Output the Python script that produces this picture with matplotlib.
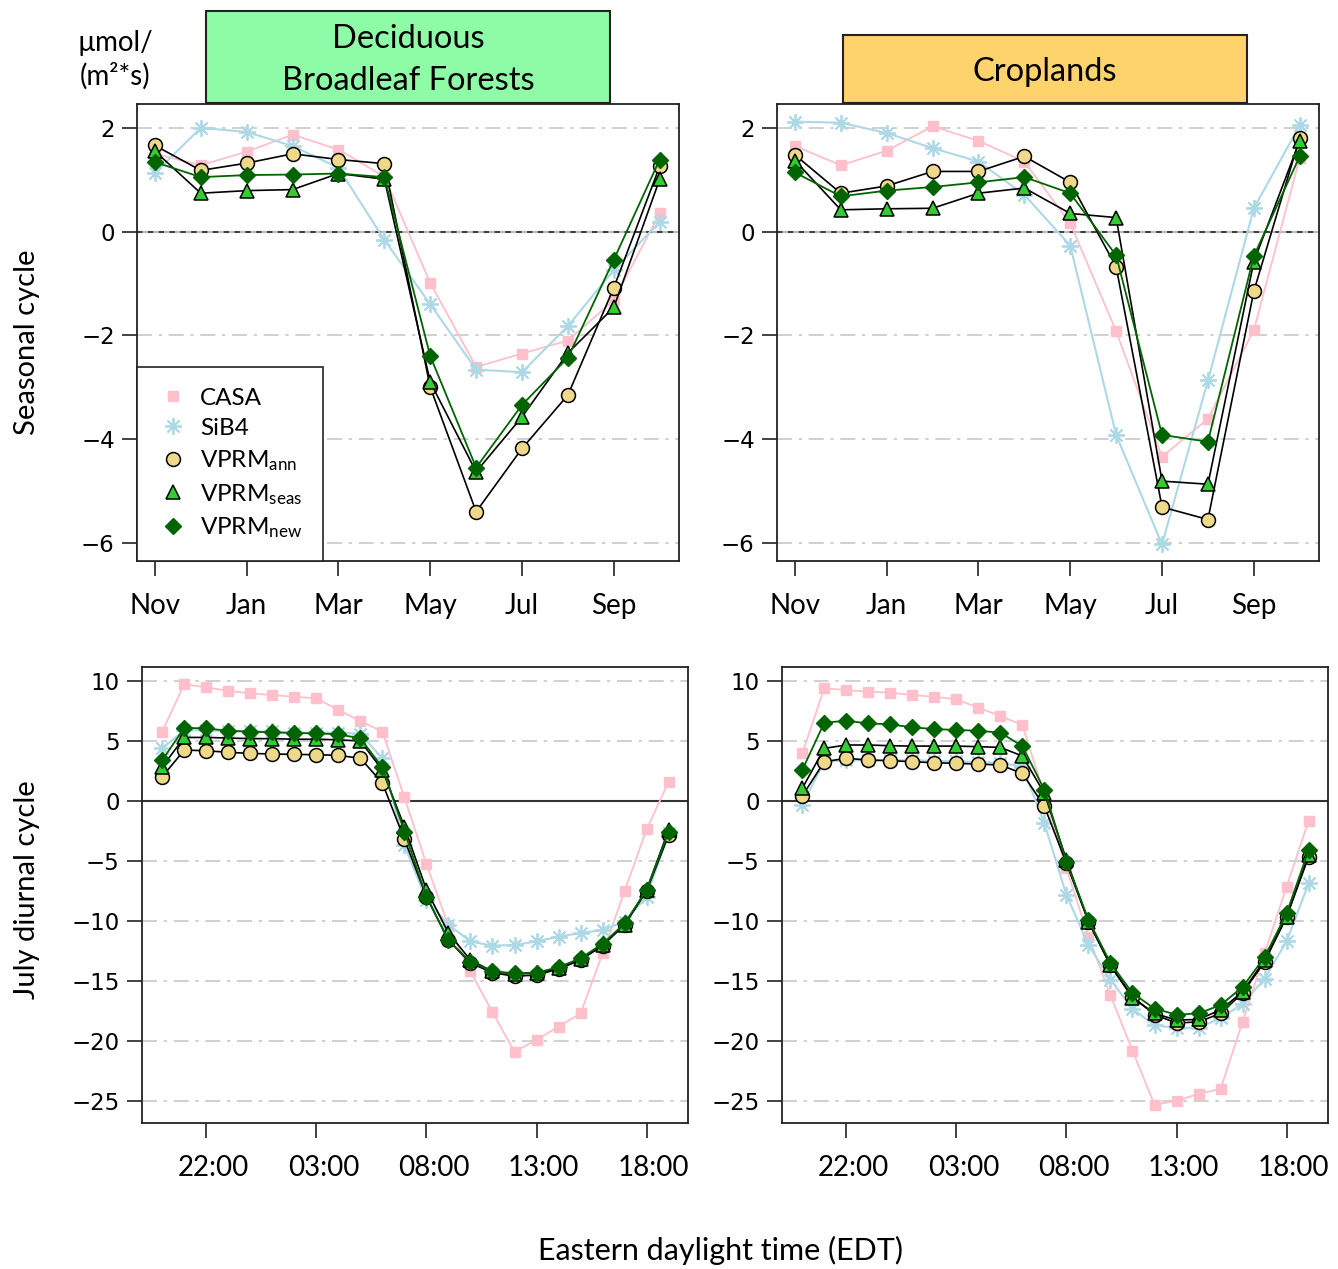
import matplotlib
matplotlib.use('Agg')
import matplotlib.pyplot as plt
from matplotlib.lines import Line2D
from matplotlib.patches import Rectangle
import matplotlib.transforms as mtransforms

plt.rcParams['font.family'] = ['Lato', 'DejaVu Sans']
plt.rcParams['mathtext.fontset'] = 'custom'
plt.rcParams['mathtext.rm'] = 'Lato'
plt.rcParams['mathtext.it'] = 'Lato:italic'
plt.rcParams['axes.unicode_minus'] = True

# ---------------- data ----------------
months = ['Nov', 'Dec', 'Jan', 'Feb', 'Mar', 'Apr', 'May', 'Jun', 'Jul', 'Aug', 'Sep', 'Oct']
month_ticks = ['Nov', 'Jan', 'Mar', 'May', 'Jul', 'Sep']
hours = ['20:00', '21:00', '22:00', '23:00', '00:00', '01:00', '02:00', '03:00',
         '04:00', '05:00', '06:00', '07:00', '08:00', '09:00', '10:00', '11:00',
         '12:00', '13:00', '14:00', '15:00', '16:00', '17:00', '18:00', '19:00']
hour_ticks = ['22:00', '03:00', '08:00', '13:00', '18:00']

series = ['CASA', 'SiB4', 'VPRM_ann', 'VPRM_seas', 'VPRM_new']
legend_labels = ['CASA', 'SiB4', r'VPRM$_{\mathrm{ann}}$', r'VPRM$_{\mathrm{seas}}$', r'VPRM$_{\mathrm{new}}$']

# Deciduous Broadleaf Forests - seasonal cycle
dbf_seas_casa = [1.50, 1.28, 1.54, 1.87, 1.58, 1.06, -0.99, -2.61, -2.35, -2.10, -1.32, 0.35]
dbf_seas_sib4 = [1.13, 2.00, 1.92, 1.65, 1.23, -0.16, -1.40, -2.66, -2.71, -1.82, -0.74, 0.19]
dbf_seas_ann = [1.66, 1.18, 1.32, 1.50, 1.39, 1.31, -3.00, -5.40, -4.18, -3.15, -1.08, 1.26]
dbf_seas_seas = [1.55, 0.74, 0.79, 0.81, 1.12, 1.01, -2.90, -4.63, -3.57, -2.34, -1.46, 1.01]
dbf_seas_new = [1.34, 1.05, 1.09, 1.10, 1.12, 1.05, -2.40, -4.55, -3.34, -2.43, -0.54, 1.39]

# Croplands - seasonal cycle
crop_seas_casa = [1.65, 1.28, 1.56, 2.03, 1.75, 1.35, 0.16, -1.92, -4.34, -3.61, -1.90, 1.42]
crop_seas_sib4 = [2.12, 2.10, 1.90, 1.61, 1.35, 0.71, -0.27, -3.92, -6.03, -2.87, 0.45, 2.05]
crop_seas_ann = [1.48, 0.74, 0.88, 1.16, 1.16, 1.45, 0.95, -0.68, -5.31, -5.55, -1.15, 1.81]
crop_seas_seas = [1.37, 0.42, 0.44, 0.45, 0.74, 0.84, 0.35, 0.27, -4.81, -4.87, -0.58, 1.75]
crop_seas_new = [1.14, 0.68, 0.79, 0.86, 0.95, 1.05, 0.74, -0.46, -3.92, -4.05, -0.47, 1.45]

# Deciduous Broadleaf Forests - July diurnal cycle
dbf_diur_casa = [5.78, 9.75, 9.47, 9.19, 8.97, 8.83, 8.69, 8.56, 7.58, 6.67, 5.78, 0.30,
                 -5.25, -10.4, -14.2, -17.6, -20.9, -19.9, -18.8, -17.7, -12.7, -7.5, -2.36, 1.60]
dbf_diur_sib4 = [4.40, 5.90, 5.90, 5.80, 5.80, 5.80, 5.70, 5.70, 5.70, 5.60, 3.55, -3.70,
                 -8.25, -10.3, -11.7, -12.05, -12.0, -11.7, -11.3, -11.0, -10.75, -10.05, -7.96, -2.70]
dbf_diur_ann = [2.03, 4.25, 4.19, 4.06, 3.97, 3.92, 3.89, 3.86, 3.81, 3.56, 1.50, -3.20,
                -7.97, -11.6, -13.5, -14.3, -14.6, -14.5, -14.0, -13.25, -12.05, -10.3, -7.5, -2.83]
dbf_diur_seas = [2.86, 5.30, 5.30, 5.25, 5.20, 5.20, 5.15, 5.15, 5.10, 5.00, 2.58, -2.14,
                 -7.4, -11.0, -13.25, -14.2, -14.4, -14.35, -13.95, -13.2, -12.0, -10.3, -7.4, -2.40]
dbf_diur_new = [3.40, 6.10, 6.05, 5.86, 5.78, 5.72, 5.67, 5.64, 5.56, 5.22, 2.80, -2.55,
                -7.97, -11.6, -13.4, -14.2, -14.35, -14.3, -13.85, -13.1, -11.9, -10.2, -7.4, -2.55]

# Croplands - July diurnal cycle
crop_diur_casa = [3.97, 9.39, 9.25, 9.11, 9.03, 8.83, 8.69, 8.47, 7.78, 7.08, 6.33, 0.50,
                  -5.6, -11.3, -16.2, -20.8, -25.3, -25.0, -24.4, -24.0, -18.4, -12.7, -7.14, -1.64]
crop_diur_sib4 = [-0.33, 3.30, 3.40, 3.40, 3.40, 3.40, 3.35, 3.30, 3.25, 3.20, 2.86, -1.86,
                  -7.83, -12.0, -14.9, -17.3, -18.7, -18.9, -18.9, -18.1, -16.9, -14.8, -11.7, -6.86]
crop_diur_ann = [0.42, 3.28, 3.56, 3.42, 3.36, 3.28, 3.19, 3.14, 3.08, 3.00, 2.30, -0.45,
                 -5.2, -10.05, -13.7, -16.3, -17.8, -18.5, -18.4, -17.7, -16.0, -13.4, -9.64, -4.64]
crop_diur_seas = [1.05, 4.39, 4.67, 4.67, 4.61, 4.58, 4.58, 4.58, 4.53, 4.47, 3.75, 0.64,
                  -4.9, -10.05, -13.7, -16.4, -17.7, -18.25, -18.2, -17.4, -15.9, -13.25, -9.64, -4.50]
crop_diur_new = [2.58, 6.53, 6.69, 6.47, 6.39, 6.14, 6.00, 5.92, 5.86, 5.69, 4.58, 0.92,
                 -5.05, -9.9, -13.5, -16.0, -17.3, -17.8, -17.7, -17.0, -15.5, -13.0, -9.36, -4.08]

seas_yticks = [2, 0, -2, -4, -6]
diur_yticks = [10, 5, 0, -5, -10, -15, -20, -25]

# ---------------- styles ----------------
styles = {
    'CASA': dict(color='#FFC0CB', lw=1.3, marker='s', ms=7.5, mfc='#FFC0CB', mec='#FFC0CB', zorder=3),
    'SiB4': dict(color='#ADD8E6', lw=1.5, marker=(8, 2, 0), ms=12, mfc='#ADD8E6', mec='#ADD8E6', mew=1.3, zorder=4),
    'VPRM_ann': dict(color='black', lw=1.2, marker='o', ms=10, mfc='#EED98A', mec='black', mew=1.1, zorder=5),
    'VPRM_seas': dict(color='black', lw=1.2, marker='^', ms=10.5, mfc='#32CD32', mec='black', mew=1.1, zorder=6),
    'VPRM_new': dict(color='#006400', lw=1.3, marker='D', ms=8.5, mfc='#006400', mec='#006400', mew=1.0, zorder=7),
}

W, H = 1338, 1269
fig = plt.figure(figsize=(W / 100, H / 100), dpi=100)


def rect(l, t, r, b):
    return [l / W, 1 - b / H, (r - l) / W, (b - t) / H]


ax_tl = fig.add_axes(rect(137, 104, 679, 561))
ax_tr = fig.add_axes(rect(777, 104, 1319, 561))
ax_bl = fig.add_axes(rect(142, 667, 688, 1123))
ax_br = fig.add_axes(rect(782, 667, 1328, 1123))

grid_kw = dict(color='#C8C8C8', lw=1.2, ls=(0, (9, 4, 2, 4)), zorder=1)


def style_axis(ax):
    for s in ax.spines.values():
        s.set_linewidth(1.3)
        s.set_color('#222222')
    ax.tick_params(axis='both', direction='out', length=11, width=1.2, color='#222222')
    ax.tick_params(axis='y', pad=5, labelsize=16.5)
    ax.tick_params(axis='x', pad=12, labelsize=20)
    for lbl in ax.get_yticklabels():
        lbl.set_fontfamily('DejaVu Sans')


def draw_seasonal(ax, data):
    x = list(range(len(months)))
    for v in seas_yticks:
        if v != 0:
            ax.axhline(v, **grid_kw)
    ax.axhline(0, color='#BBBBBB', lw=1.6, zorder=1)
    ax.axhline(0, color='#333333', lw=1.3, ls=(0, (3, 3)), zorder=2)
    for name, vals in zip(series, data):
        ax.plot(x, vals, **styles[name])
    ax.set_xlim(-0.39, 11.42)
    ax.set_ylim(-6.35, 2.46)
    ax.set_xticks([months.index(m) for m in month_ticks], month_ticks)
    ax.set_yticks(seas_yticks, [str(v).replace('-', '\u2212') for v in seas_yticks])
    style_axis(ax)


def draw_diurnal(ax, data):
    x = list(range(len(hours)))
    for v in diur_yticks:
        if v != 0:
            ax.axhline(v, **grid_kw)
    ax.axhline(0, color='#333333', lw=1.5, zorder=1)
    for name, vals in zip(series, data):
        ax.plot(x, vals, **styles[name])
    ax.set_xlim(-0.92, 23.88)
    ax.set_ylim(-26.83, 11.17)
    ax.set_xticks([hours.index(h) for h in hour_ticks], hour_ticks)
    ax.set_yticks(diur_yticks, [str(v).replace('-', '\u2212') for v in diur_yticks])
    style_axis(ax)
    off = mtransforms.ScaledTranslation(7 / 100, 0, fig.dpi_scale_trans)
    for lbl in ax.get_xticklabels():
        lbl.set_transform(lbl.get_transform() + off)


draw_seasonal(ax_tl, [dbf_seas_casa, dbf_seas_sib4, dbf_seas_ann, dbf_seas_seas, dbf_seas_new])
draw_seasonal(ax_tr, [crop_seas_casa, crop_seas_sib4, crop_seas_ann, crop_seas_seas, crop_seas_new])
draw_diurnal(ax_bl, [dbf_diur_casa, dbf_diur_sib4, dbf_diur_ann, dbf_diur_seas, dbf_diur_new])
draw_diurnal(ax_br, [crop_diur_casa, crop_diur_sib4, crop_diur_ann, crop_diur_seas, crop_diur_new])

# legend
handles = []
for name in series:
    st = dict(styles[name])
    st.pop('zorder', None)
    st.pop('lw', None)
    handles.append(Line2D([], [], ls='none', **st))
leg = ax_tl.legend(handles, legend_labels, loc='lower left', borderaxespad=0,
                   frameon=True, fancybox=False, edgecolor='#222222', framealpha=1,
                   fontsize=17.5, labelspacing=0.38, handletextpad=0.45, borderpad=0.85,
                   handlelength=1.3)
leg.get_frame().set_linewidth(1.2)
leg.set_zorder(10)


# title boxes
def title_box(l, t, r, b, color, text):
    fig.patches.append(Rectangle((l / W, 1 - b / H), (r - l) / W, (b - t) / H,
                                 transform=fig.transFigure, facecolor=color,
                                 edgecolor='#222222', lw=1.5, zorder=0))
    fig.text((l + r) / 2 / W, 1 - ((t + b) / 2 + 3) / H, text, ha='center', va='center',
             fontsize=23.5, linespacing=1.5)


title_box(206, 11, 610, 103, '#8EFBA6', 'Deciduous\nBroadleaf Forests')
title_box(843, 35, 1247, 103, '#FFD36B', 'Croplands')

# unit label
fig.text(115 / W, 1 - 60 / H, 'µmol/\n(m²*s)', ha='center', va='center', fontsize=20,
         linespacing=1.3)

# row labels
fig.text(27 / W, 1 - 342 / H, 'Seasonal cycle', rotation=90, ha='center', va='center', fontsize=21)
fig.text(27 / W, 1 - 890 / H, 'July diurnal cycle', rotation=90, ha='center', va='center', fontsize=21)

# x label
fig.text(720 / W, 1 - 1250 / H, 'Eastern daylight time (EDT)', ha='center', va='center', fontsize=22)

fig.savefig('out.png', dpi=100)
